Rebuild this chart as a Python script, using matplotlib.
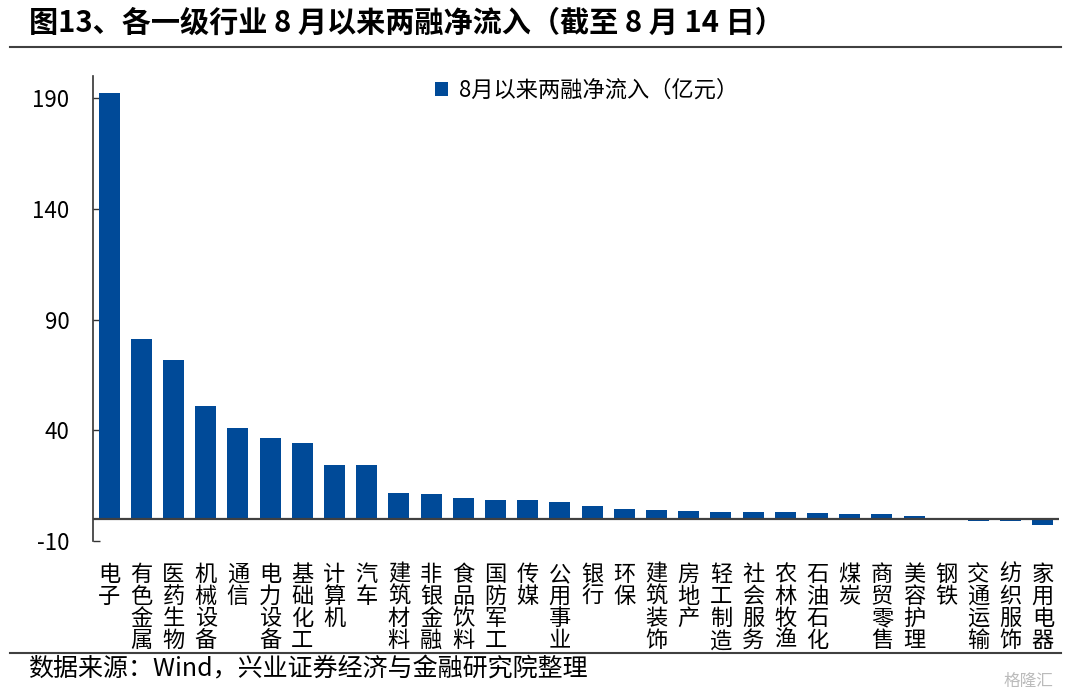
import numpy as np
import matplotlib
matplotlib.use("Agg")
from matplotlib import pyplot as plt

plt.rcParams['font.family'] = ['Noto Sans CJK SC', 'DejaVu Sans']
plt.rcParams['axes.unicode_minus'] = False

industries = ["电子", "有色金属", "医药生物", "机械设备", "通信", "电力设备", "基础化工",
              "计算机", "汽车", "建筑材料", "非银金融", "食品饮料", "国防军工", "传媒",
              "公用事业", "银行", "环保", "建筑装饰", "房地产", "轻工制造", "社会服务",
              "农林牧渔", "石油石化", "煤炭", "商贸零售", "美容护理", "钢铁", "交通运输",
              "纺织服饰", "家用电器"]
net_inflow = [192.3, 81.2, 71.7, 51.2, 41.2, 36.4, 34.2, 24.3, 24.3, 11.9, 11.1, 9.3,
              8.7, 8.3, 7.7, 5.9, 4.4, 4.1, 3.5, 2.9, 2.9, 2.9, 2.7, 2.4, 2.0, 1.5,
              0.5, -1.0, -1.0, -2.9]
y_ticks = [-10, 40, 90, 140, 190]

bar_color = '#004A98'

fig = plt.figure(figsize=(10.8, 6.97), dpi=100)
ax = fig.add_axes([0.0861, 0.2238, 0.8945, 0.667])

x = np.arange(len(industries))
ax.bar(x, net_inflow, width=0.65, color=bar_color, label="8月以来两融净流入（亿元）", zorder=2)
ax.axhline(0, color='#404040', lw=1.6, zorder=3)

ax.set_xlim(-0.5, len(industries) - 0.5)
ax.set_ylim(-10, 200)
ax.set_yticks(y_ticks)
ax.tick_params(axis='y', direction='in', length=5, width=1, color='#333333',
               labelsize=16, pad=17)
ax.set_xticks([])
for s in ['top', 'right', 'bottom']:
    ax.spines[s].set_visible(False)
ax.spines['left'].set_color('#333333')
ax.spines['left'].set_linewidth(1.2)

# vertical category labels (one char per line)
for i, name in enumerate(industries):
    ax.text(i, -0.047, "\n".join(name), transform=ax.get_xaxis_transform(),
            ha='center', va='top', fontsize=16, linespacing=0.95)

ax.legend(loc='upper left', bbox_to_anchor=(0.354, 0.995), frameon=False,
          fontsize=16, handlelength=0.6, handleheight=0.6, handletextpad=0.5,
          borderpad=0, borderaxespad=0)

# title, rules, footer
fig.text(0.027, 0.968, "图13、各一级行业 8 月以来两融净流入（截至 8 月 14 日）",
         fontsize=21, fontweight='bold', ha='left', va='center')
fig.add_artist(plt.Line2D([0.009, 0.982], [0.932, 0.932], color='#404040', lw=1.5))
fig.add_artist(plt.Line2D([0.009, 0.982], [0.063, 0.063], color='#404040', lw=1.5))
fig.text(0.026, 0.040, "数据来源：Wind，兴业证券经济与金融研究院整理",
         fontsize=18, ha='left', va='center')
fig.text(0.975, 0.022, "格隆汇", fontsize=12, color='#BBBBBB', ha='right', va='center')

fig.savefig("out.png", dpi=100)
